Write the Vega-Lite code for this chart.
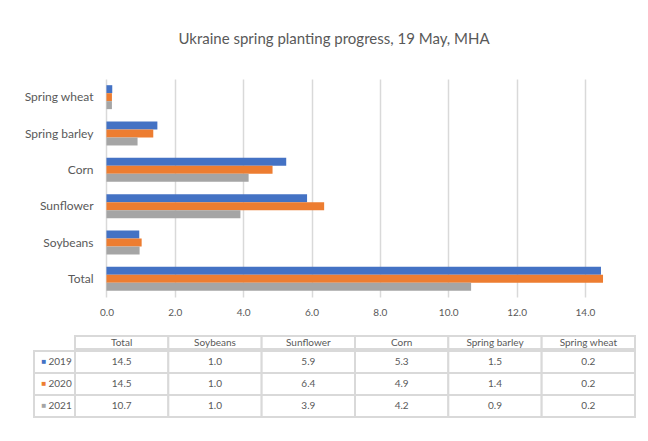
{
  "$schema": "https://vega.github.io/schema/vega-lite/v6.json",
  "background": "white",
  "padding": {"left": 23, "top": 32, "right": 5, "bottom": 5},
  "title": {"text": "Ukraine spring planting progress, 19 May, MHA", "font": "Lato", "fontSize": 15, "fontWeight": "normal", "color": "#595959", "anchor": "middle", "offset": 32, "dx": 4},
  "config": {"font": "Lato", "view": {"stroke": null}, "axis": {"labelFont": "Lato", "labelColor": "#595959"}},
  "datasets": {
    "progress": [
      {"crop": "Total", "year": "2019", "value": 14.47},
      {"crop": "Total", "year": "2020", "value": 14.53},
      {"crop": "Total", "year": "2021", "value": 10.67},
      {"crop": "Soybeans", "year": "2019", "value": 0.96},
      {"crop": "Soybeans", "year": "2020", "value": 1.03},
      {"crop": "Soybeans", "year": "2021", "value": 0.97},
      {"crop": "Sunflower", "year": "2019", "value": 5.87},
      {"crop": "Sunflower", "year": "2020", "value": 6.37},
      {"crop": "Sunflower", "year": "2021", "value": 3.92},
      {"crop": "Corn", "year": "2019", "value": 5.26},
      {"crop": "Corn", "year": "2020", "value": 4.86},
      {"crop": "Corn", "year": "2021", "value": 4.16},
      {"crop": "Spring barley", "year": "2019", "value": 1.49},
      {"crop": "Spring barley", "year": "2020", "value": 1.37},
      {"crop": "Spring barley", "year": "2021", "value": 0.91},
      {"crop": "Spring wheat", "year": "2019", "value": 0.17},
      {"crop": "Spring wheat", "year": "2020", "value": 0.16},
      {"crop": "Spring wheat", "year": "2021", "value": 0.16}
    ]
  },
  "spacing": 18,
  "vconcat": [
    {
      "width": 568,
      "height": 218,
      "data": {"name": "progress"},
      "mark": {"type": "bar"},
      "encoding": {
        "y": {"field": "crop", "type": "nominal", "sort": ["Spring wheat", "Spring barley", "Corn", "Sunflower", "Soybeans", "Total"], "scale": {"paddingInner": 0, "paddingOuter": 0}, "axis": {"title": null, "domain": false, "ticks": false, "tickSize": 0, "labelPadding": 0, "offset": -59, "labelFontSize": 12, "labelColor": "#595959"}},
        "yOffset": {"field": "year", "type": "nominal", "sort": ["2019", "2020", "2021"], "scale": {"paddingInner": 0, "paddingOuter": 0.775}},
        "x": {"field": "value", "type": "quantitative", "scale": {"domain": [-2.12, 14.5], "nice": false, "zero": false}, "axis": {"title": null, "values": [0, 2, 4, 6, 8, 10, 12, 14], "format": ".1f", "domain": false, "ticks": false, "tickSize": 0, "labelPadding": 10, "grid": true, "gridColor": "#d9d9d9", "gridWidth": 1.5, "labelFontSize": 10, "labelColor": "#595959"}},
        "x2": {"datum": 0},
        "color": {"field": "year", "type": "nominal", "scale": {"domain": ["2019", "2020", "2021"], "range": ["#4472c4", "#ed7d31", "#a5a5a5"]}, "legend": null}
      }
    },
    {
      "spacing": 0,
      "vconcat": [
        {
          "width": 601,
          "height": 13,
          "data": {"name": "progress"},
          "transform": [{"filter": "datum.year == '2019'"}],
          "encoding": {
            "x": {"field": "crop", "type": "nominal", "sort": ["Total", "Soybeans", "Sunflower", "Corn", "Spring barley", "Spring wheat"], "scale": {"paddingInner": 0, "paddingOuter": 0.2196, "align": 1}, "axis": null}
          },
          "layer": [
            {"mark": {"type": "rect", "fill": "white", "stroke": "#d9d9d9", "strokeWidth": 2}},
            {"mark": {"type": "text", "fontSize": 10, "color": "#595959", "font": "Lato"}, "encoding": {"text": {"field": "crop"}}}
          ]
        },
        {
          "width": 601,
          "height": 66,
          "data": {"name": "progress"},
          "layer": [
            {
              "transform": [{"filter": "datum.crop == 'Total'"}],
              "mark": {"type": "rect", "filled": false, "stroke": "#d9d9d9", "strokeWidth": 2},
              "encoding": {
                "y": {"field": "year", "type": "nominal", "sort": ["2019", "2020", "2021"], "scale": {"paddingInner": 0, "paddingOuter": 0}, "axis": {"orient": "left", "zindex": 1, "title": null, "domain": false, "ticks": false, "tickSize": 0, "labelPadding": 0, "offset": -14, "labelAlign": "left", "labelFontSize": 10, "labelColor": "#595959", "grid": false}}
              }
            },
            {
              "mark": {"type": "rect", "fill": "white", "stroke": "#d9d9d9", "strokeWidth": 2},
              "encoding": {
                "x": {"field": "crop", "type": "nominal", "sort": ["Total", "Soybeans", "Sunflower", "Corn", "Spring barley", "Spring wheat"], "scale": {"paddingInner": 0, "paddingOuter": 0.2196, "align": 1}, "axis": null},
                "y": {"field": "year", "type": "nominal", "sort": ["2019", "2020", "2021"], "axis": {"orient": "left", "zindex": 1, "title": null, "domain": false, "ticks": false, "tickSize": 0, "labelPadding": 0, "offset": -7, "labelAlign": "left", "labelExpr": "'■'", "labelFontSize": 8, "grid": false, "labelColor": {"condition": [{"test": "datum.value == '2019'", "value": "#4472c4"}, {"test": "datum.value == '2020'", "value": "#ed7d31"}], "value": "#a5a5a5"}}}
              }
            },
            {
              "mark": {"type": "text", "fontSize": 10, "color": "#595959", "font": "Lato"},
              "encoding": {
                "x": {"field": "crop", "type": "nominal", "sort": ["Total", "Soybeans", "Sunflower", "Corn", "Spring barley", "Spring wheat"], "axis": null},
                "text": {"field": "value", "type": "quantitative", "format": ".1f"},
                "y": {"field": "year", "type": "nominal", "sort": ["2019", "2020", "2021"], "axis": null}
              }
            }
          ],
          "resolve": {"axis": {"y": "independent", "x": "independent"}}
        }
      ]
    }
  ]
}
